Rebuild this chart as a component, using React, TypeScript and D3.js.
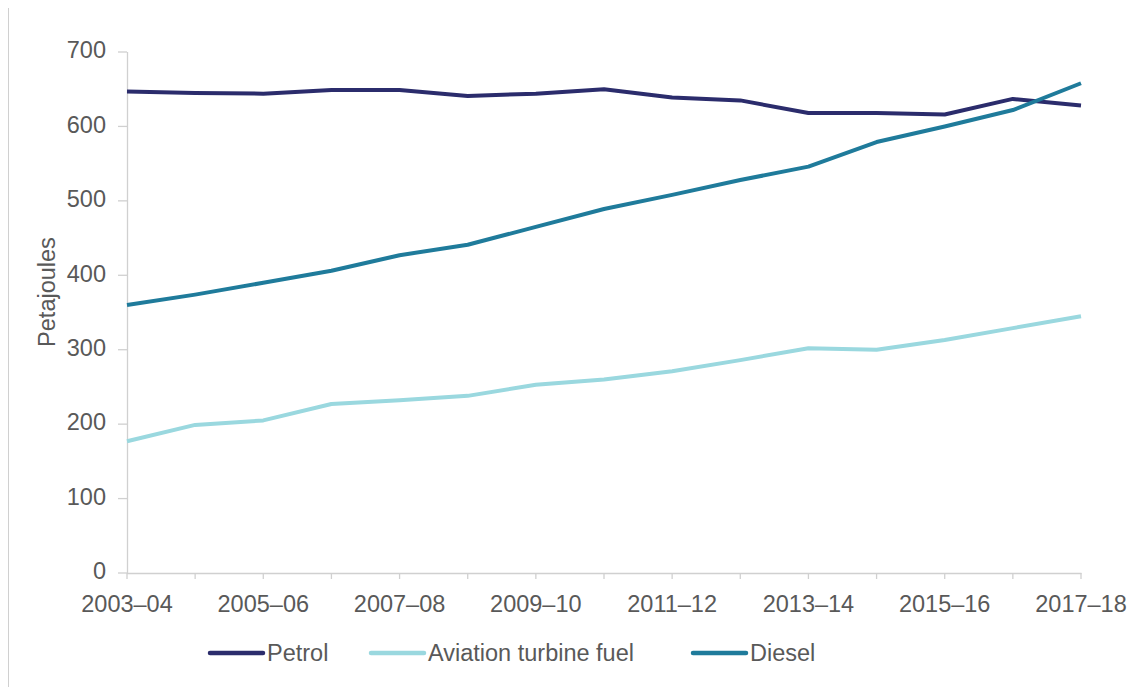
import React from "react";
import * as d3 from "d3";

const years = ["2003–04","2004–05","2005–06","2006–07","2007–08","2008–09","2009–10","2010–11","2011–12","2012–13","2013–14","2014–15","2015–16","2016–17","2017–18"];
const petrol = [647, 645, 644, 649, 649, 641, 644, 650, 639, 635, 618, 618, 616, 637, 628];
const aviation = [177, 199, 205, 227, 232, 238, 253, 260, 271, 286, 302, 300, 313, 329, 345];
const diesel = [360, 374, 390, 406, 427, 441, 465, 489, 508, 528, 546, 579, 600, 622, 658];
const yTicks = [0, 100, 200, 300, 400, 500, 600, 700];

const series = [
  { name: "Petrol", values: petrol, color: "#2b2c6c" },
  { name: "Aviation turbine fuel", values: aviation, color: "#9ad8df" },
  { name: "Diesel", values: diesel, color: "#1f7b9b" },
];

export default function App() {
  const W = 1138, H = 687;
  const left = 127, right = 1081, top = 52, bottom = 573;
  const x = d3.scalePoint<string>().domain(years).range([left, right]);
  const y = d3.scaleLinear().domain([0, 700]).range([bottom, top]);
  const line = (vals: number[]) =>
    d3.line<number>().x((_, i) => x(years[i]) as number).y((d) => y(d))(vals) as string;
  const font = "'Liberation Sans', Arial, sans-serif";
  const fs = 23.5;
  const legendX = [210, 371, 693];
  return (
    <svg width={W} height={H} style={{ position: "absolute", left: 0, top: 0 }} fontFamily={font}>
      <rect width={W} height={H} fill="#fff" />
      <line x1={8.5} x2={8.5} y1={8} y2={687} stroke="#d0d0d0" strokeWidth={1} />
      {/* y axis */}
      <line x1={left + 0.5} x2={left + 0.5} y1={top} y2={bottom} stroke="#d0d0d0" strokeWidth={1.3} />
      {yTicks.map((t) => (
        <g key={t}>
          <line x1={left - 9} x2={left} y1={y(t)} y2={y(t)} stroke="#d0d0d0" strokeWidth={1.3} />
          <text x={106} y={y(t) - 2} dy="0.35em" textAnchor="end" fontSize={fs} fill="#595959">{t}</text>
        </g>
      ))}
      {/* x axis */}
      <line x1={left} x2={right + 0.5} y1={bottom + 0.5} y2={bottom + 0.5} stroke="#d0d0d0" strokeWidth={1.3} />
      {years.map((yr, i) => (
        <g key={yr}>
          <line x1={x(yr)} x2={x(yr)} y1={bottom} y2={bottom + 6} stroke="#d0d0d0" strokeWidth={1.3} />
          {i % 2 === 0 && (
            <text x={x(yr)} y={612} textAnchor="middle" fontSize={fs} fill="#595959">{yr}</text>
          )}
        </g>
      ))}
      <text transform={`translate(55,292) rotate(-90)`} textAnchor="middle" fontSize={fs} fill="#595959">Petajoules</text>
      {series.map((s) => (
        <path key={s.name} d={line(s.values)} fill="none" stroke={s.color} strokeWidth={4} strokeLinejoin="round" />
      ))}
      {series.map((s, i) => (
        <g key={s.name}>
          <line x1={legendX[i]} x2={legendX[i] + 53} y1={653} y2={653} stroke={s.color} strokeWidth={4.5} strokeLinecap="round" />
          <text x={legendX[i] + 57} y={653} dy="0.35em" fontSize={fs} fill="#595959">{s.name}</text>
        </g>
      ))}
    </svg>
  );
}
